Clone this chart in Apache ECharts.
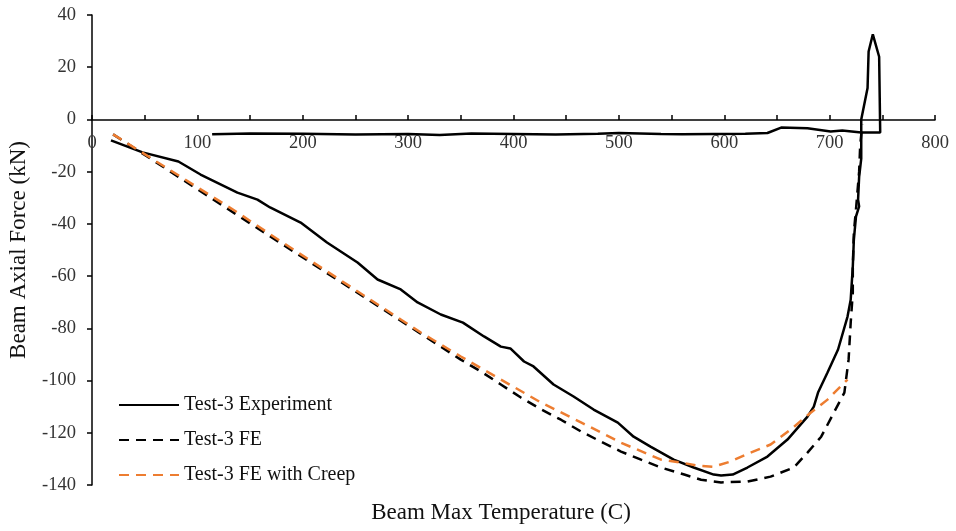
<!DOCTYPE html>
<html>
<head>
<meta charset="utf-8">
<script src="https://cdn.jsdelivr.net/npm/echarts@6/dist/echarts.min.js"></script>
<style>
  html, body { margin: 0; padding: 0; background: #fff; }
  #main { width: 956px; height: 531px; }
</style>
</head>
<body>
<div id="main"></div>
<script>
var chart = echarts.init(document.getElementById('main'));

// Test-3 experiment (heating then cooling, so temperature goes back down)
var expTemp = [18, 48, 82, 103, 138, 157, 169, 198, 223, 252, 271, 293, 309, 331, 352, 372, 388, 397, 410, 419,
  438, 457, 476, 499, 514, 530, 552, 571, 590, 597, 608, 622, 641, 660, 679, 685, 689, 698, 708, 717,
  720, 722, 723, 725, 728, 727, 728, 730, 730, 730, 732, 734, 736, 737, 741, 747, 748, 730, 712, 701,
  679, 654, 641, 620, 560, 540, 500, 480, 440, 400, 360, 330, 300, 250, 200, 150, 114];
var expForce = [-8.0, -12.6, -16.1, -21.1, -28.0, -30.7, -33.7, -39.5, -47.1, -54.8, -61.3, -65.1, -70.1, -74.7, -77.8, -83.1, -87.0, -87.7, -92.7, -94.6,
  -101.5, -106.1, -111.1, -116.1, -121.5, -125.3, -130.3, -133.3, -136.0, -136.4, -136.0, -133.3, -129.1, -122.6, -113.8, -110.0, -104.6, -96.9, -88.1, -75.5,
  -69, -56.3, -46, -37.2, -33.3, -30.7, -22, -15, -8, 0, 4, 8, 12, 26, 32.6, 24, -5, -5, -4.2, -4.6,
  -3.4, -3.1, -5.2, -5.5, -5.7, -5.6, -5.2, -5.5, -5.8, -5.6, -5.4, -6.0, -5.6, -5.8, -5.5, -5.4, -5.7];

// Test-3 FE
var feTemp = [20, 150, 331, 350, 369, 388, 407, 426, 445, 464, 483, 502, 521, 540, 562, 578, 597, 622, 644, 666,
  679, 692, 704, 714, 718, 720, 722, 722, 723, 725, 728, 729, 731];
var feForce = [-5.7, -39.8, -87, -92, -96.5, -101.5, -106.5, -111, -115, -119.5, -123.4, -127.2, -130.3, -133.3, -136, -138, -139, -138.7, -136.8, -133.3,
  -127.6, -121.5, -112.3, -104.6, -92, -77.8, -66.3, -56.3, -43.3, -34.5, -20, -10, -2];

// Test-3 FE with creep
var creepTemp = [20, 138, 169, 293, 312, 350, 388, 426, 464, 502, 540, 559, 575, 590, 606, 625, 644, 663, 682, 698, 717];
var creepForce = [-5.7, -35.6, -44, -76.6, -81.6, -90.8, -99.6, -108.4, -116, -123.8, -130.3, -131.4, -132.6, -133, -131, -127.6, -124.5, -118.8, -112.3, -107.3, -99.6];

function pairs(xs, ys) {
  return xs.map(function (x, i) { return [x, ys[i]]; });
}

var fontFamily = 'Liberation Serif';
var labelColor = '#333';

var option = {
  animation: false,
  textStyle: { fontFamily: fontFamily },
  grid: { left: 92, right: 21, top: 15, bottom: 46 },
  legend: {
    orient: 'vertical',
    left: 113,
    top: 390,
    itemWidth: 60,
    itemHeight: 14,
    itemGap: 15,
    itemStyle: { opacity: 0 },
    textStyle: { fontFamily: fontFamily, fontSize: 20, color: '#111' },
    data: ['Test-3 Experiment', 'Test-3 FE', 'Test-3 FE with Creep']
  },
  xAxis: {
    type: 'value',
    min: 0,
    max: 800,
    interval: 50,
    position: 'bottom',
    offset: -365, // axis sits on force = 0
    axisLine: { onZero: false, lineStyle: { color: '#000', width: 1.5 } },
    axisTick: { inside: true, length: 5, lineStyle: { color: '#000', width: 1.5 } },
    axisLabel: {
      margin: 14,
      fontSize: 18.5,
      color: labelColor,
      fontFamily: fontFamily,
      formatter: function (v) { return v % 100 === 0 ? v : ''; }
    },
    splitLine: { show: false }
  },
  yAxis: {
    type: 'value',
    min: -140,
    max: 40,
    interval: 20,
    axisLine: { show: true, onZero: false, lineStyle: { color: '#000', width: 1.5 } },
    axisTick: { show: true, length: 5, lineStyle: { color: '#000', width: 1.5 } },
    axisLabel: { margin: 16, fontSize: 18.5, color: labelColor, fontFamily: fontFamily },
    splitLine: { show: false }
  },
  graphic: [
    {
      type: 'text',
      x: 501,
      y: 513,
      style: { text: 'Beam Max Temperature (C)', font: '23px "Liberation Serif"', fill: '#111', align: 'center', verticalAlign: 'middle' }
    },
    {
      type: 'text',
      x: 19,
      y: 250,
      rotation: Math.PI / 2,
      style: { text: 'Beam Axial Force (kN)', font: '23px "Liberation Serif"', fill: '#111', align: 'center', verticalAlign: 'middle' }
    }
  ],
  series: [
    {
      name: 'Test-3 Experiment',
      type: 'line',
      symbol: 'none',
      lineStyle: { color: '#000', width: 2.5 },
      itemStyle: { color: '#000' },
      data: pairs(expTemp, expForce)
    },
    {
      name: 'Test-3 FE',
      type: 'line',
      symbol: 'none',
      lineStyle: { color: '#000', width: 2.5, type: [10, 7] },
      itemStyle: { color: '#000' },
      data: pairs(feTemp, feForce)
    },
    {
      name: 'Test-3 FE with Creep',
      type: 'line',
      symbol: 'none',
      lineStyle: { color: '#ED7D31', width: 2.5, type: [10, 7] },
      itemStyle: { color: '#ED7D31' },
      data: pairs(creepTemp, creepForce)
    }
  ]
};

chart.setOption(option);
</script>
</body>
</html>
